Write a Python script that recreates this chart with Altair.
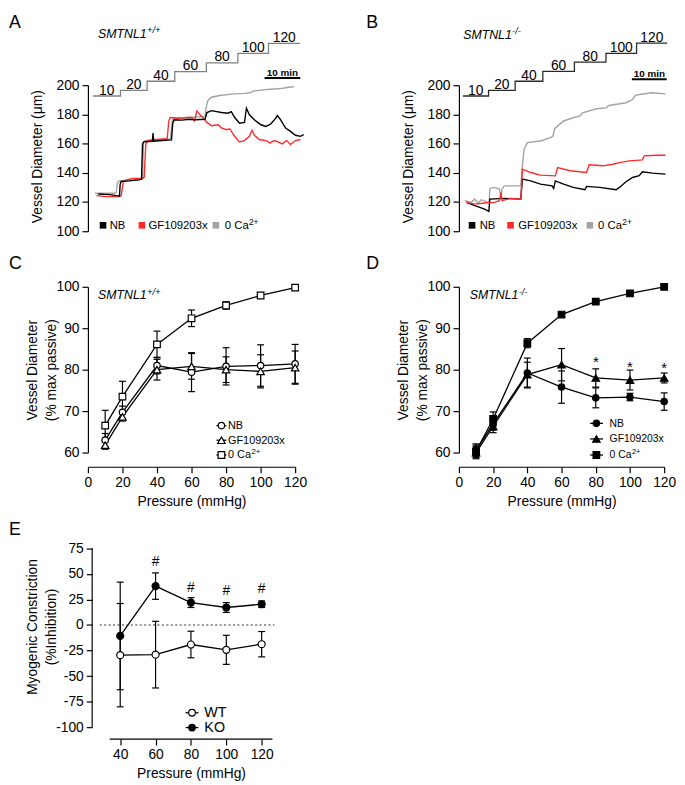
import altair as alt
import pandas as pd

FONT = "Liberation Sans"

# ---------------- data ----------------
step_labels = ["10", "20", "40", "60", "80", "100", "120"]

# Panel A (SMTNL1+/+): pressure protocol + diameter traces (time in min, diameter in um)
a_step_t = [1.38, 9.12, 16.59, 24.33, 33.18, 42.02, 50.59, 59.44]
a_step_level = [192.6, 196.4, 202.7, 209.3, 215.3, 221.8, 228.6]

a_nb_t = [2.86, 6.08, 7.93, 8.85, 9.03, 9.31, 11.61, 14.38, 15.02, 15.30, 15.58, 18.06, 18.25, 18.43,
          20.83, 23.41, 23.78, 24.15, 26.36, 28.20, 30.05, 32.81, 33.36, 34.65, 37.42, 39.26, 40.18,
          41.11, 42.49, 43.87, 44.42, 45.25, 46.64, 48.48, 49.86, 51.24, 52.63, 53.09, 54.01, 55.39,
          56.77, 58.16, 59.54, 60.46]
a_nb_v = [125.5, 125.1, 124.4, 124.2, 132.3, 134.1, 134.5, 135.2, 135.7, 159.4, 161.2, 161.6, 167.3, 161.6,
          162.1, 162.5, 174.0, 176.3, 176.1, 176.7, 176.3, 176.7, 181.3, 182.6, 181.3, 180.8, 181.9,
          177.9, 174.0, 174.5, 184.2, 179.7, 176.3, 172.9, 171.8, 173.4, 177.4, 179.2, 176.3, 170.7,
          168.4, 165.7, 165.0, 166.1]
a_gf_t = [2.40, 5.16, 8.39, 9.31, 9.95, 12.53, 15.30, 15.76, 16.22, 16.68, 18.99, 22.21, 22.67, 23.04,
          25.44, 28.20, 29.12, 29.86, 30.51, 31.43, 32.35, 33.27, 34.65, 36.50, 37.42, 38.80, 39.72,
          41.11, 42.49, 43.87, 45.25, 45.99, 46.64, 48.02, 49.86, 51.06, 52.17, 53.55, 54.47, 55.67,
          56.77, 58.16, 59.54]
a_gf_v = [124.4, 123.7, 123.7, 124.2, 134.5, 136.1, 136.3, 136.8, 159.4, 162.1, 162.8, 163.4, 175.6, 177.9,
          177.4, 177.9, 177.9, 175.6, 182.4, 179.7, 177.4, 174.7, 172.2, 172.9, 170.7, 169.5, 170.2,
          165.0, 161.2, 162.1, 165.0, 169.1, 165.7, 162.8, 162.1, 160.5, 162.1, 160.9, 159.8, 162.1,
          159.4, 162.1, 162.8]
a_ca_t = [1.94, 7.47, 7.93, 8.29, 8.85, 12.53, 15.30, 15.58, 16.04, 18.99, 23.13, 23.59, 24.06, 28.20,
          32.81, 33.09, 33.55, 34.47, 36.50, 40.18, 43.87, 45.53, 46.18, 50.32, 54.01, 55.85, 57.70]
a_ca_v = [126.0, 126.0, 126.6, 133.4, 134.5, 135.2, 135.7, 160.5, 162.1, 162.3, 163.4, 175.2, 177.4, 177.9,
          178.6, 184.2, 189.2, 191.6, 192.8, 193.9, 194.4, 194.8, 195.9, 197.1, 197.7, 198.4, 198.9]

# Panel B (SMTNL1-/-)
b_step_t = [1.13, 8.49, 16.13, 24.06, 33.12, 42.17, 50.95, 59.72]
b_step_level = [192.6, 196.4, 202.7, 209.5, 215.8, 221.8, 228.8]

b_nb_t = [2.17, 4.53, 7.36, 8.58, 8.87, 13.02, 17.74, 18.21, 20.57, 23.40, 26.70, 27.17, 27.64, 30.00,
          32.83, 36.13, 36.60, 40.38, 45.09, 46.04, 47.92, 49.81, 51.70, 52.64, 55.47, 59.25]
b_nb_v = [119.8, 117.5, 115.2, 113.6, 122.0, 122.5, 122.0, 135.7, 134.5, 132.3, 131.1, 129.3, 134.5, 132.3,
          130.0, 128.4, 130.7, 130.0, 128.4, 130.0, 133.9, 136.8, 138.0, 140.7, 139.8, 139.1]
b_gf_t = [2.17, 4.53, 7.36, 10.19, 11.60, 12.08, 12.36, 14.91, 17.74, 18.21, 20.57, 23.40, 27.64, 28.30,
          31.89, 36.60, 37.36, 41.32, 44.15, 46.04, 48.87, 52.64, 53.11, 56.42, 59.25]
b_gf_v = [119.8, 118.6, 119.3, 119.8, 120.9, 126.6, 120.9, 122.5, 122.0, 142.5, 140.2, 138.4, 137.9, 143.6,
          141.4, 140.2, 145.5, 144.8, 145.9, 147.0, 148.2, 148.9, 151.6, 152.0, 152.0]
b_ca_t = [1.70, 3.58, 4.53, 5.47, 6.42, 8.30, 8.68, 8.87, 10.19, 11.60, 12.08, 12.36, 13.02, 17.74, 18.21,
          18.68, 19.62, 23.40, 26.23, 26.98, 27.45, 30.00, 32.83, 34.72, 35.47, 39.43, 42.26, 43.02,
          47.92, 49.81, 50.57, 51.70, 55.47, 59.25]
b_ca_v = [120.9, 119.8, 122.0, 119.3, 121.6, 119.8, 120.2, 129.3, 130.0, 128.9, 123.2, 128.9, 131.1, 131.1,
          144.8, 156.1, 160.7, 161.8, 164.1, 165.2, 170.2, 175.5, 177.7, 178.9, 181.1, 183.9, 184.5,
          186.1, 188.0, 190.2, 193.0, 193.6, 194.8, 194.1]

# Panels C / D: % max passive diameter vs pressure (mean, SEM)
pressure = [10, 20, 40, 60, 80, 100, 120]
pressure_ticks = [0, 20, 40, 60, 80, 100, 120]
c_nb_mean = [63.0, 69.7, 81.0, 79.4, 80.8, 81.0, 81.4]
c_nb_sem = [1.6, 1.5, 2.0, 4.7, 4.5, 5.0, 4.7]
c_gf_mean = [61.8, 68.6, 80.0, 80.8, 80.0, 79.6, 80.5]
c_gf_sem = [1.0, 1.0, 2.5, 3.1, 3.1, 4.0, 4.0]
c_ca_mean = [66.5, 73.5, 86.1, 92.4, 95.5, 97.9, 99.8]
c_ca_sem = [3.7, 3.7, 3.2, 2.0, 0.9, 0.4, 0.3]

d_nb_mean = [60.6, 66.9, 79.2, 75.8, 73.2, 73.4, 72.3]
d_nb_sem = [1.5, 1.5, 3.6, 3.9, 2.4, 0.9, 2.1]
d_gf_mean = [60.0, 66.3, 78.8, 81.2, 78.0, 77.5, 78.0]
d_gf_sem = [1.5, 1.5, 3.0, 3.9, 2.2, 2.4, 1.2]
d_ca_mean = [60.3, 68.1, 86.4, 93.3, 96.4, 98.4, 100.0]
d_ca_sem = [1.5, 1.7, 1.1, 0.4, 0.4, 0.3, 0.3]
d_star_pressure = [80, 100, 120]
d_star_y = [80.7, 79.5, 79.2]

# Panel E: myogenic constriction (% inhibition)
e_pressure = [40, 60, 80, 100, 120]
e_wt_mean = [-29.5, -29.0, -19.1, -24.3, -18.8]
e_wt_sem = [50.5, 32.6, 13.0, 14.2, 12.4]
e_ko_mean = [-10.7, 38.0, 21.9, 17.1, 20.3]
e_ko_sem = [52.6, 12.9, 4.8, 4.8, 3.2]
e_hash_pressure = [60, 80, 100, 120]
e_hash_y = [57.6, 32.5, 29.6, 31.5]

# ---------------- styling / layout ----------------
BLACK = "#000000"
RED = "#ff2a2a"
GREY = "#a3a3a3"
TR_H = 148
CD_H = 168
E_H = 222.1


def txt(s, x, y, size=11, align="left", baseline="alphabetic", **kw):
    return alt.Chart(pd.DataFrame({"s": [s]})).mark_text(
        font=FONT, fontSize=size, align=align, baseline=baseline, color="black", **kw
    ).encode(x=alt.value(x), y=alt.value(y), text="s:N")


def trace_panel(w, steps_t, steps_lv, step_color, traces, letter, letter_x, title_x, title_y,
                sup, legend_sq_x, legend_tx_x, bar_start, bar_y):
    xs = alt.Scale(domain=[0, 60], nice=False, zero=False)
    ys = alt.Scale(domain=[100, 200], nice=False, zero=False)
    yax = alt.Axis(values=[100, 120, 140, 160, 180, 200], title="Vessel Diameter (μm)",
                   titleX=-44, titleY=72)
    X = alt.X("t:Q", scale=xs, axis=None)
    Y = alt.Y("v:Q", scale=ys, axis=yax)
    layers = []
    prot = pd.DataFrame({"t": steps_t, "v": steps_lv + [steps_lv[-1]]})
    layers.append(alt.Chart(prot).mark_line(interpolate="step-after", color=step_color,
                                            strokeWidth=1.3).encode(x=X, y=Y))
    mids = [(steps_t[i] + steps_t[i + 1]) / 2 for i in range(len(steps_lv))]
    lab = pd.DataFrame({"t": mids, "v": steps_lv, "s": step_labels})
    layers.append(alt.Chart(lab).mark_text(font=FONT, fontSize=14, dy=-1.5, baseline="alphabetic",
                                           align="center", color="black").encode(x=X, y=Y, text="s:N"))
    for tt, vv, col in traces:
        layers.append(alt.Chart(pd.DataFrame({"t": tt, "v": vv})).mark_line(
            color=col, strokeWidth=1.4).encode(x=X, y=Y))
    # 10 min scale bar
    bar = pd.DataFrame({"t": [bar_start], "t2": [bar_start + 10], "tm": [bar_start + 5]})
    layers.append(alt.Chart(bar).mark_rule(color="black", strokeWidth=2).encode(
        x=X, x2=alt.X2("t2"), y=alt.value(bar_y)))
    layers.append(alt.Chart(bar).mark_text(font=FONT, fontSize=10, fontWeight="bold", align="center",
                                           baseline="alphabetic", color="black").encode(
        x=alt.X("tm:Q", scale=xs, axis=None), y=alt.value(bar_y - 2.5), text=alt.value("10 min")))
    # legend
    cols = [BLACK, RED, GREY]
    names = ["NB", "GF109203x", "0 Ca"]
    for sx, tx, col, nm in zip(legend_sq_x, legend_tx_x, cols, names):
        layers.append(alt.Chart(pd.DataFrame({"a": [0]})).mark_square(
            size=45, color=col, opacity=1).encode(x=alt.value(sx), y=alt.value(142)))
        layers.append(txt(nm, tx, 142.5, 11.5, baseline="middle"))
    layers.append(txt("2+", legend_tx_x[2] + 24.5, 138.5, 8.5, baseline="middle"))
    # letter and title
    layers.append(txt(letter, letter_x, -72, 18, baseline="top"))
    layers.append(txt("SMTNL1", title_x, title_y, 12.5, fontStyle="italic"))
    layers.append(txt(sup, title_x + 49.5, title_y - 4.5, 9.5, fontStyle="italic"))
    return alt.layer(*layers).properties(width=w, height=TR_H)


def series_layers(df_list, X, Yf, cap=7):
    lines, bars, pts = [], [], []
    for df, shape, fill, size in df_list:
        lines.append(alt.Chart(df).mark_line(color="black", strokeWidth=1.3).encode(x=X, y=Yf("m")))
        bars.append(alt.Chart(df).mark_rule(color="black", strokeWidth=1.2).encode(
            x=X, y=Yf("lo"), y2=alt.Y2("hi")))
        for f in ("lo", "hi"):
            bars.append(alt.Chart(df).mark_tick(orient="horizontal", size=cap, thickness=1.2,
                                                color="black", opacity=1).encode(x=X, y=Yf(f)))
        pts.append(alt.Chart(df).mark_point(shape=shape, filled=True, fill=fill, stroke="black",
                                            strokeWidth=1.2, size=size, opacity=1).encode(x=X, y=Yf("m")))
    return lines + bars + pts


def mk_df(p, m, s):
    return pd.DataFrame({"p": p, "m": m, "lo": [a - b for a, b in zip(m, s)],
                         "hi": [a + b for a, b in zip(m, s)]})


def curve_panel(w, series, fill, letter, letter_x, title_x, sup, leg_line, leg_mark_x, leg_text_x,
                leg_ys, leg_size, stars=None):
    xs = alt.Scale(domain=[0, 120], nice=False, zero=False)
    ys = alt.Scale(domain=[60, 100], nice=False, zero=False)
    xax = alt.Axis(values=pressure_ticks, offset=14.4, title="Pressure (mmHg)", titlePadding=5)
    yax = alt.Axis(values=[60, 70, 80, 90, 100], title=["Vessel Diameter", "(% max passive)"],
                   titleLineHeight=19, titleX=-49)
    X = alt.X("p:Q", scale=xs, axis=xax)

    def Yf(f):
        return alt.Y(f + ":Q", scale=ys, axis=yax)

    df_list = [(mk_df(pressure, m, s), shp, fill, sz) for (m, s, shp, sz) in series]
    layers = series_layers(df_list, X, Yf)
    if stars is not None:
        sdf = pd.DataFrame({"p": stars[0], "m": stars[1]})
        layers.append(alt.Chart(sdf).mark_text(font=FONT, fontSize=15, baseline="alphabetic",
                                               align="center", color="black").encode(
            x=X, y=Yf("m"), text=alt.value("*")))
    names = ["NB", "GF109203x", "0 Ca"]
    for (m, s, shp, sz), nm, ly in zip(series, names, leg_ys):
        layers.append(alt.Chart(pd.DataFrame({"a": [0]})).mark_rule(color="black", strokeWidth=1.3).encode(
            x=alt.value(leg_line[0]), x2=alt.value(leg_line[1]), y=alt.value(ly)))
        layers.append(alt.Chart(pd.DataFrame({"a": [0]})).mark_point(
            shape=shp, filled=True, fill=fill, stroke="black", strokeWidth=1.2, size=sz, opacity=1).encode(
            x=alt.value(leg_mark_x), y=alt.value(ly)))
        layers.append(txt(nm, leg_text_x, ly + 0.5, leg_size, baseline="middle"))
    layers.append(txt("2+", leg_text_x + 2.112 * leg_size + 0.5, leg_ys[2] - 3.5, leg_size * 0.72,
                      baseline="middle"))
    layers.append(txt(letter, letter_x, -32.3, 18, baseline="top"))
    layers.append(txt("SMTNL1", title_x, 12.4, 12.5, fontStyle="italic"))
    layers.append(txt(sup, title_x + 49.5, 7.9, 9.5, fontStyle="italic"))
    return alt.layer(*layers).properties(width=w, height=CD_H)


# ---------------- panels ----------------
A = trace_panel(217, a_step_t, a_step_level, "#808080",
                [(a_ca_t, a_ca_v, GREY), (a_gf_t, a_gf_v, RED), (a_nb_t, a_nb_v, BLACK)],
                "A", -80, 10.3, -48.3, "+/+", [15.3, 54.7, 129.7], [22, 61.3, 138.7], 49.5, -7.3)
B = trace_panel(212, b_step_t, b_step_level, "#2a2a2a",
                [(b_ca_t, b_ca_v, GREY), (b_nb_t, b_nb_v, BLACK), (b_gf_t, b_gf_v, RED)],
                "B", -94, 4.3, -47.3, "-/-", [13.3, 52.3, 132.7], [21, 60, 141], 49.6, -6)

C = curve_panel(210, [(c_nb_mean, c_nb_sem, "circle", 42), (c_gf_mean, c_gf_sem, "triangle-up", 58),
                      (c_ca_mean, c_ca_sem, "square", 45)], "white",
                "C", -80, 10.3, "+/+", (130.3, 140.3), 135.3, 142, [140.7, 155.5, 170.5], 11)
D = curve_panel(208, [(d_nb_mean, d_nb_sem, "circle", 42), (d_gf_mean, d_gf_sem, "triangle-up", 58),
                      (d_ca_mean, d_ca_sem, "square", 45)], "black",
                "D", -94, 11, "-/-", (133, 146), 139.3, 152.7, [138.4, 154.2, 170.5], 10.5,
                stars=(d_star_pressure, d_star_y))

# Panel E
exs = alt.Scale(domain=[21.74, 126.1], nice=False, zero=False)
eys = alt.Scale(domain=[-100, 114.26], nice=False, zero=False)
exax = alt.Axis(values=e_pressure, offset=12, domain=False, title="Pressure (mmHg)", titleX=104.5,
                titlePadding=5)
eyax = alt.Axis(values=[-100, -75, -50, -25, 0, 25, 50, 75], offset=-4.3, domain=False,
                labelExpr="'' + datum.value",
                title=["Myogenic Constriction", "(%Inhibition)"], titleLineHeight=19,
                titleX=-53.3, titleY=120)
EX = alt.X("p:Q", scale=exs, axis=exax)


def EYf(f):
    return alt.Y(f + ":Q", scale=eys, axis=eyax)


e_layers = [
    alt.Chart(pd.DataFrame({"m": [0]})).mark_rule(color="#333333", strokeWidth=1.2,
                                                 strokeDash=[2, 2.5]).encode(
        x=alt.value(12), x2=alt.value(189), y=EYf("m")),
    alt.Chart(pd.DataFrame({"lo": [-100], "hi": [75]})).mark_rule(color="black", strokeWidth=1.2).encode(
        x=alt.value(4.3), y=EYf("lo"), y2=alt.Y2("hi")),
    alt.Chart(pd.DataFrame({"a": [0]})).mark_rule(color="black", strokeWidth=1.2).encode(
        x=alt.value(22), x2=alt.value(187), y=alt.value(E_H + 12)),
]
e_layers += series_layers([(mk_df(e_pressure, e_wt_mean, e_wt_sem), "circle", "white", 50),
                           (mk_df(e_pressure, e_ko_mean, e_ko_sem), "circle", "black", 50)], EX, EYf)
e_layers.append(alt.Chart(pd.DataFrame({"p": e_hash_pressure, "m": e_hash_y})).mark_text(
    font=FONT, fontSize=14, baseline="alphabetic", align="center", color="black").encode(
    x=EX, y=EYf("m"), text=alt.value("#")))
for nm, fill, ly in [("WT", "white", 207.4), ("KO", "black", 222.4)]:
    e_layers.append(alt.Chart(pd.DataFrame({"a": [0]})).mark_rule(color="black", strokeWidth=1.3).encode(
        x=alt.value(99), x2=alt.value(112), y=alt.value(ly)))
    e_layers.append(alt.Chart(pd.DataFrame({"a": [0]})).mark_point(
        shape="circle", filled=True, fill=fill, stroke="black", strokeWidth=1.2, size=45, opacity=1).encode(
        x=alt.value(105.5), y=alt.value(ly)))
    e_layers.append(txt(nm, 118, ly + 0.5, 14.5, baseline="middle"))
e_layers.append(txt("E", -80, 13.1, 18, baseline="top"))
E = alt.layer(*e_layers).properties(width=187, height=E_H)

chart = alt.concat(A, B, C, D, E, columns=2, spacing={"row": 56.3, "column": 159},
                   bounds="flush").properties(padding=0)
chart = chart.configure_view(stroke="transparent").configure_axis(
    labelFont=FONT, labelFontSize=14, labelColor="black", titleFont=FONT, titleFontSize=14,
    titleFontWeight="normal", titleColor="black", tickColor="black", domainColor="black",
    tickWidth=1.2, domainWidth=1.2, tickSize=6, labelPadding=3, grid=False,
    labelFlush=False, labelOverlap=False)

chart.save("out.html", embed_options={"renderer": "svg", "actions": False})
